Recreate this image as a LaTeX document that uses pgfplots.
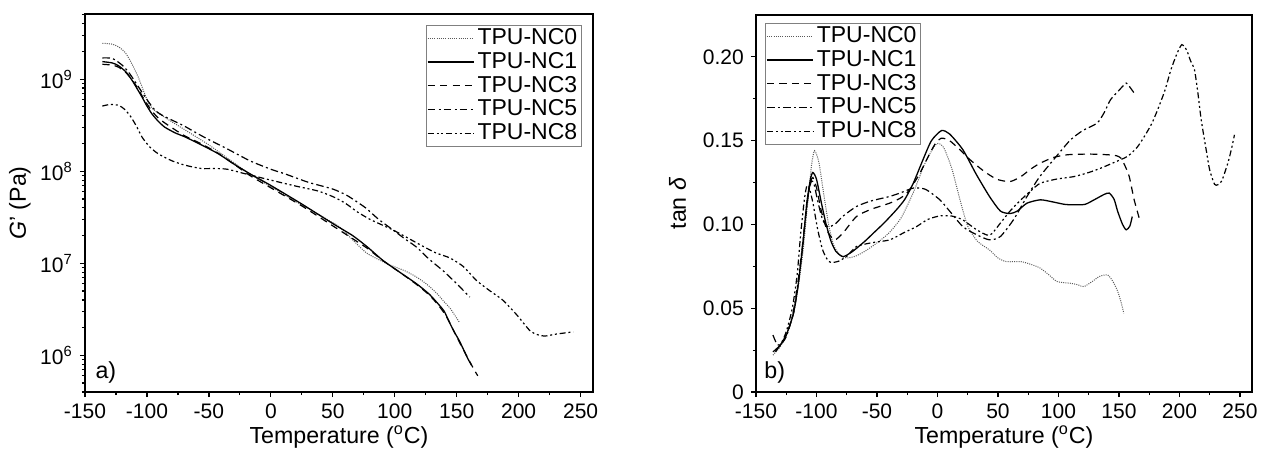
\documentclass[border=0pt]{standalone}
\usepackage{fontspec}
\setmainfont{Liberation Sans}
\usepackage{pgfplots}
\pgfplotsset{compat=1.18}

\newcommand{\tickfont}{\fontsize{10.5}{12}\selectfont}
\newcommand{\labfont}{\fontsize{11.6}{14}\selectfont}
\newcommand{\legfont}{\fontsize{11.5}{12}\selectfont}

\pgfplotsset{
  legend image code/.code={\draw[#1] (0pt,0pt) -- (23pt,0pt);},
  nc0/.style={gray!70!black, line width=0.5pt, dash pattern=on 0.5pt off 0.6pt, smooth, tension=0.4},
  nc1/.style={black, line width=0.65pt, smooth, tension=0.4},
  nc3/.style={black, line width=0.6pt, dash pattern=on 3.6pt off 2.6pt, smooth, tension=0.4},
  nc5/.style={black, line width=0.6pt, dash pattern=on 3.8pt off 1.6pt on 1pt off 1.6pt, smooth, tension=0.4},
  nc8/.style={black, line width=0.6pt, dash pattern=on 3pt off 1.4pt on 1pt off 1.4pt on 1pt off 1.4pt, smooth, tension=0.4},
  common/.style={
    scale only axis,
    axis line style={line width=0.8pt},
    tick align=outside,
    tick pos=left,
    major tick length=2.6pt,
    minor tick length=1.6pt,
    tick style={line width=0.6pt,black},
    /pgf/number format/assume math mode=true,
    xmin=-150, xmax=260,
    xtick={-150,-100,...,250},
    minor x tick num=1,
    legend cell align=left,
  },
}

\begin{document}
\begin{tikzpicture}
% ---------------- a) storage modulus
\begin{axis}[common,
  at={(42.5pt,30pt)}, anchor=south west,
  width=254pt, height=189pt,
  ymode=log, log basis y=10,
  ymin=4e5, ymax=5.1e9,
  yticklabel={\pgfmathparse{int(round(\tick))}10\textsuperscript{\pgfmathresult}},
  xticklabel style={font=\tickfont},
  yticklabel style={font=\tickfont},
  xlabel={Temperature (\textsuperscript{o}C)},
  ylabel={\textit{G}' (Pa)},
  xlabel style={font=\labfont, at={(axis description cs:0.5,-0.119)}, anchor=center},
  ylabel style={font=\labfont, at={(axis description cs:-0.128,0.5)}, rotate=0, anchor=center},
  legend style={font=\legfont, draw=gray, line width=0.4pt, inner sep=0.5pt, row sep=0pt,
                nodes={inner xsep=1.6pt, inner ysep=0.8pt, text height=8.3pt, text depth=2.0pt},
                at={(0.978,0.971)}, anchor=north east},
]
\addplot[nc0] coordinates {
(-136,2.45e9) (-128,2.4e9) (-122,2.2e9) (-117,1.9e9) (-112,1.45e9) (-107,1.05e9)
(-103,7.6e8) (-99,5.6e8) (-95,4.7e8) (-90,4.2e8) (-80,3.45e8) (-70,2.85e8)
(-60,2.35e8) (-50,1.93e8) (-40,1.55e8) (-30,1.24e8) (-17,9.3e7) (0,6.8e7)
(20,4.7e7) (40,3.3e7) (55,2.5e7) (66,1.8e7) (77,1.3e7) (88,1.08e7) (96,9.6e6)
(108,8.3e6) (117.5,7.1e6) (126,5.9e6) (134,4.7e6) (140,3.8e6) (145,3.2e6) (152,2.3e6)};
\addlegendentry{TPU-NC0}
\addplot[nc1] coordinates {
(-136,1.55e9) (-128,1.5e9) (-123,1.4e9) (-117,1.2e9) (-112,9.7e8) (-108,7.9e8)
(-104,6.4e8) (-100,5.1e8) (-96,4.2e8) (-91,3.5e8) (-85.5,3.0e8) (-77,2.6e8)
(-69,2.35e8) (-55,1.9e8) (-42.5,1.55e8) (-30,1.2e8) (-17,9.4e7) (0,7.0e7)
(25,4.4e7) (50,2.7e7) (66,2.0e7) (78,1.5e7) (90.6,1.07e7) (104,8.0e6)
(117.5,6.0e6) (128,4.6e6) (136,3.5e6) (140,3.0e6) (144,2.3e6) (148,1.8e6)
(152,1.45e6) (156,1.12e6) (159,9.2e5) (162,7.8e5)};
\addlegendentry{TPU-NC1}
\addplot[nc3] coordinates {
(-136,1.45e9) (-128,1.42e9) (-123,1.35e9) (-117,1.18e9) (-112,9.8e8) (-108,8.2e8)
(-104,6.6e8) (-100,5.4e8) (-96,4.5e8) (-91,3.8e8) (-85,3.3e8) (-77,2.8e8)
(-69,2.4e8) (-55,1.95e8) (-42,1.55e8) (-30,1.2e8) (-17,9.0e7) (0,6.6e7)
(25,4.2e7) (50,2.55e7) (66,1.85e7) (78,1.45e7) (90,1.08e7) (104,8.0e6)
(117.5,5.9e6) (128,4.5e6) (136,3.4e6) (142,2.6e6) (148,1.8e6) (154,1.25e6)
(160,8.8e5) (164,7.0e5) (167,6.0e5)};
\addlegendentry{TPU-NC3}
\addplot[nc5] coordinates {
(-136,1.7e9) (-128,1.68e9) (-120,1.42e9) (-114,1.15e9) (-107,8.3e8) (-100,6.0e8)
(-93.5,4.6e8) (-87,4.0e8) (-80,3.6e8) (-70,3.1e8) (-60,2.6e8) (-50,2.2e8)
(-37,1.8e8) (-17,1.3e8) (0,1.05e8) (11,9.4e7) (30,7.6e7) (50,6.4e7) (61,5.5e7)
(70,4.6e7) (77,3.95e7) (87,3.0e7) (98.6,2.3e7) (108,1.85e7) (117.5,1.5e7)
(128,1.1e7) (139,8.3e6) (150,6.0e6) (160.5,4.3e6)};
\addlegendentry{TPU-NC5}
\addplot[nc8] coordinates {
(-136,5.1e8) (-130,5.3e8) (-123,5.2e8) (-118,4.7e8) (-113,3.9e8) (-108,3.0e8)
(-104,2.35e8) (-98,1.85e8) (-91,1.55e8) (-80,1.3e8) (-69,1.16e8) (-56,1.07e8)
(-45,1.07e8) (-35,1.05e8) (-21,9.4e7) (0,8.0e7) (20,6.9e7) (38,6.1e7) (50,5.3e7)
(60,4.5e7) (70,3.6e7) (80,3.0e7) (90,2.6e7) (98.6,2.3e7) (110,1.9e7)
(122,1.55e7) (133,1.3e7) (144,1.15e7) (155,9.3e6) (166,6.5e6) (177,5.0e6)
(187,4.0e6) (198,2.8e6) (209,1.86e6) (215,1.68e6) (221,1.62e6) (230,1.7e6) (244,1.8e6)};
\addlegendentry{TPU-NC8}
\node[anchor=base west, inner sep=0pt, font=\labfont] at (axis description cs:0.02,0.035) {a)};
\end{axis}

% ---------------- b) tan delta
\begin{axis}[common,
  at={(378pt,30pt)}, anchor=south west,
  width=248pt, height=188.5pt,
  ymin=0, ymax=0.225,
  ytick={0,0.05,0.10,0.15,0.20},
  yticklabels={0,0.05,0.10,0.15,0.20},
  minor y tick num=1,
  xticklabel style={font=\tickfont},
  yticklabel style={font=\tickfont},
  xlabel={Temperature (\textsuperscript{o}C)},
  ylabel={tan \textit{δ}},
  xlabel style={font=\labfont, at={(axis description cs:0.5,-0.119)}, anchor=center},
  ylabel style={font=\labfont, at={(axis description cs:-0.158,0.5)}, rotate=0, anchor=center},
  legend style={font=\legfont, draw=gray, line width=0.4pt, inner sep=0.5pt, row sep=0pt,
                nodes={inner xsep=1.6pt, inner ysep=0.8pt, text height=8.3pt, text depth=2.0pt},
                at={(0.018,0.979)}, anchor=north west},
]
\addplot[nc0] coordinates {
(-136,0.022) (-130,0.027) (-125,0.034) (-119,0.047) (-115,0.063) (-111,0.085)
(-107,0.115) (-104,0.136) (-101.6,0.144) (-98,0.137) (-94,0.118) (-90,0.100)
(-86,0.088) (-81,0.082) (-75,0.080) (-68,0.081) (-60,0.084) (-50,0.089)
(-40,0.095) (-30,0.104) (-20,0.119) (-10,0.137) (-1,0.148) (5,0.146)
(12,0.133) (18.5,0.115) (25,0.099) (33,0.090) (43,0.0848) (50,0.080)
(57,0.0778) (69,0.0778) (78,0.0760) (85,0.0739) (92,0.070) (99,0.0659)
(110,0.0649) (116,0.064) (121,0.0629) (128,0.066) (134,0.069) (140.6,0.0699)
(145,0.066) (149,0.060) (152,0.053) (154,0.047)};
\addlegendentry{TPU-NC0}
\addplot[nc1] coordinates {
(-134,0.024) (-130,0.028) (-125,0.034) (-119,0.047) (-115,0.065) (-111,0.090)
(-108,0.113) (-105,0.127) (-103,0.131) (-100,0.127) (-96,0.113) (-92,0.100)
(-88,0.090) (-84,0.084) (-78,0.0808) (-70,0.084) (-60,0.090) (-53,0.0948)
(-44,0.101) (-34,0.1087) (-27,0.115) (-20,0.1246) (-12,0.1386) (-5,0.150)
(3.3,0.156) (10,0.154) (21,0.1446) (32,0.130) (43,0.1167) (52,0.108)
(60,0.1065) (66,0.108) (74,0.1127) (85,0.1147) (95,0.1135) (105,0.112)
(113,0.1117) (122,0.112) (129.5,0.1147) (138,0.118) (142,0.1187) (146,0.115)
(149,0.1077) (153,0.100) (156,0.0968) (159,0.099) (161,0.1047)};
\addlegendentry{TPU-NC1}
\addplot[nc3] coordinates {
(-134,0.025) (-130,0.028) (-125,0.034) (-119,0.047) (-115,0.065) (-111,0.090)
(-108,0.112) (-105,0.125) (-103,0.128) (-100,0.122) (-96,0.108) (-91,0.096)
(-85,0.0908) (-78,0.095) (-67,0.1047) (-55,0.109) (-39.5,0.1127) (-30,0.116)
(-23,0.1207) (-15,0.130) (-8,0.140) (-2,0.148) (3.3,0.1515) (10,0.150)
(18,0.145) (27,0.1386) (38,0.132) (49,0.127) (60,0.1256) (69,0.1286)
(77,0.133) (85,0.1366) (96,0.140) (107.5,0.1416) (125,0.142) (140.6,0.1416)
(148,0.141) (151.6,0.1396) (155,0.135) (158.5,0.1286) (162.6,0.1147) (166.8,0.1037)};
\addlegendentry{TPU-NC3}
\addplot[nc5] coordinates {
(-136,0.034) (-133,0.029) (-130,0.028) (-125,0.033) (-120,0.045) (-116,0.062)
(-112,0.085) (-109,0.105) (-106,0.121) (-104,0.126) (-102,0.124) (-99,0.114)
(-95,0.103) (-90.6,0.0987) (-85,0.100) (-78,0.105) (-67,0.1107) (-55,0.114)
(-39.5,0.1167) (-30,0.119) (-20,0.1217) (-10,0.121) (2,0.1147) (10,0.108)
(21,0.0987) (32,0.094) (43,0.0908) (52,0.0928) (63,0.103) (74,0.1167)
(84,0.128) (93.6,0.1366) (101,0.143) (110,0.1505) (120,0.156) (132,0.1605)
(138,0.167) (143,0.1744) (150,0.180) (156,0.1844) (159,0.182) (162.6,0.1784)};
\addlegendentry{TPU-NC5}
\addplot[nc8] coordinates {
(-136,0.024) (-130,0.028) (-125,0.036) (-120,0.050) (-116,0.070) (-113,0.095)
(-110,0.115) (-108,0.123) (-106,0.122) (-103,0.113) (-99,0.097) (-95,0.085)
(-91,0.079) (-88,0.0773) (-82,0.078) (-75,0.081) (-67,0.0868) (-55,0.089)
(-39.5,0.0908) (-28,0.095) (-17.4,0.0987) (-8,0.103) (2,0.1051) (12,0.105)
(21,0.1027) (32,0.097) (43,0.0935) (52,0.1008) (60,0.108) (69,0.1147)
(77,0.120) (85,0.1246) (98,0.127) (113,0.1286) (125,0.131) (135,0.1336)
(146,0.137) (157,0.1406) (165,0.146) (171,0.1525) (177,0.160) (182,0.1685)
(188,0.180) (193,0.1924) (198,0.202) (202,0.2073) (206,0.204) (209,0.198)
(212.4,0.1924) (215,0.180) (218,0.1625) (222,0.145) (225,0.1326) (229,0.124)
(231.7,0.1237) (235,0.126) (240,0.1366) (243,0.145) (245.5,0.1535)};
\addlegendentry{TPU-NC8}
\node[anchor=base west, inner sep=0pt, font=\labfont] at (axis description cs:0.016,0.035) {b)};
\end{axis}
\pgfresetboundingbox
\useasboundingbox (0,0) rectangle (631pt,226pt);
\end{tikzpicture}
\end{document}
